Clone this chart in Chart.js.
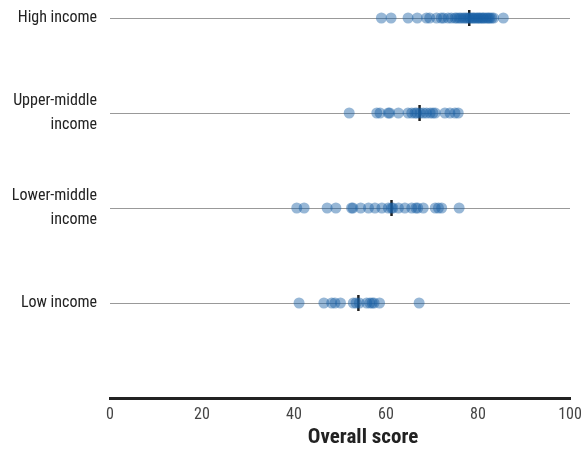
<!DOCTYPE html>
<html>
<head>
<meta charset="utf-8">
<script src="https://cdn.jsdelivr.net/npm/chart.js@4.4.0/dist/chart.umd.min.js"></script>
<style>
    html, body { margin: 0; padding: 0; background: #fff; }
    #wrap { width: 584px; height: 450px; }
</style>
</head>
<body>
<div id="wrap"><canvas id="scoreChart"></canvas></div>
<script>
// groups, top to bottom
const groups = [['High income'], ['Upper-middle', 'income'], ['Lower-middle', 'income'], ['Low income']];

const highIncome = [59.0, 61.1, 64.8, 66.8, 68.8, 69.5, 71.0, 72.0, 72.5, 73.5, 74.2, 75.0, 75.4, 75.9, 76.3, 76.8,
    77.2, 77.6, 78.0, 78.3, 78.7, 79.0, 79.3, 79.7, 80.0, 80.3, 80.6, 81.0, 81.2, 81.6, 82.0, 82.3, 82.6, 83.0, 83.4, 85.5];
const upperMiddle = [52.0, 58.0, 58.7, 60.5, 60.8, 62.7, 64.8, 65.6, 66.3, 66.7, 67.4, 68.1, 68.8, 69.6, 70.2, 70.7,
    72.8, 73.9, 75.0, 75.7];
const lowerMiddle = [40.6, 42.2, 47.2, 49.1, 52.5, 52.8, 54.5, 56.2, 57.6, 59.1, 60.5, 61.2, 61.5, 62.7, 64.1, 65.6,
    66.5, 66.9, 68.1, 70.7, 71.4, 72.1, 75.9];
const lowIncome = [41.1, 46.5, 48.2, 48.9, 50.1, 52.9, 53.5, 54.2, 55.8, 56.5, 57.0, 57.4, 58.6, 67.2];

const groupMeans = [78.1, 67.3, 61.2, 54.0];
const xTicks = [0, 20, 40, 60, 80, 100];
const xTitle = 'Overall score';

const series = [highIncome, upperMiddle, lowerMiddle, lowIncome];
// row positions: 4 = top row, 1 = bottom row
const rowOf = (i) => groups.length - i;

const points = [];
series.forEach((vals, i) => {
    vals.forEach((v) => points.push({ x: v, y: rowOf(i) }));
});
const means = groupMeans.map((m, i) => ({ x: m, y: rowOf(i) }));

const font = "'Liberation Sans Narrow', 'Roboto Condensed', 'Arial Narrow', Roboto, sans-serif";

// axis title sits a bit right of centre in the original
const xTitlePlugin = {
    id: 'xTitle',
    afterDraw(chart) {
        const { ctx, scales: { x } } = chart;
        ctx.save();
        ctx.font = 'bold 21px ' + font;
        ctx.fillStyle = '#222';
        ctx.textAlign = 'center';
        ctx.textBaseline = 'middle';
        ctx.fillText(xTitle, x.getPixelForValue(55), 438);
        ctx.restore();
    }
};

const ctx = document.getElementById('scoreChart');
new Chart(ctx, {
    type: 'scatter',
    data: {
        datasets: [
            {
                label: 'Countries',
                data: points,
                pointRadius: 5.5,
                pointHoverRadius: 5.5,
                backgroundColor: 'rgba(25, 95, 165, 0.45)',
                borderWidth: 0,
                clip: false,
            },
            {
                label: 'Mean',
                data: means,
                pointStyle: 'line',
                rotation: 90,
                pointRadius: 8,
                pointHoverRadius: 8,
                borderColor: '#222',
                borderWidth: 2.5,
                clip: false,
            }
        ]
    },
    options: {
        responsive: true,
        maintainAspectRatio: false,
        animation: false,
        events: [],
        layout: {
            padding: { top: 18, right: 14, bottom: 0, left: 0 }
        },
        scales: {
            x: {
                type: 'linear',
                min: 0,
                max: 100,
                afterBuildTicks: (axis) => {
                    axis.ticks = xTicks.map((v) => ({ value: v }));
                },
                afterFit: (axis) => {
                    axis.height = 52;
                    axis.paddingLeft = 0;
                    axis.paddingRight = 0;
                },
                grid: { display: false, drawTicks: false },
                border: { display: true, color: '#222', width: 3 },
                ticks: {
                    padding: 7,
                    color: '#444',
                    font: { size: 16, family: font },
                },
                title: { display: false }
            },
            y: {
                type: 'linear',
                min: 0,
                max: 4,
                afterFit: (axis) => {
                    axis.width = 110;
                    axis.paddingTop = 0;
                    axis.paddingBottom = 0;
                },
                afterBuildTicks: (axis) => {
                    axis.ticks = [1, 2, 3, 4].map((v) => ({ value: v }));
                },
                grid: { color: '#999', lineWidth: 1, drawTicks: false },
                border: { display: false },
                ticks: {
                    padding: 13,
                    color: '#222',
                    font: { size: 16, family: font, lineHeight: 1.45 },
                    callback: (value) => groups[groups.length - value] || '',
                }
            }
        },
        plugins: {
            legend: { display: false },
            tooltip: { enabled: false },
        }
    },
    plugins: [xTitlePlugin]
});
</script>
</body>
</html>
